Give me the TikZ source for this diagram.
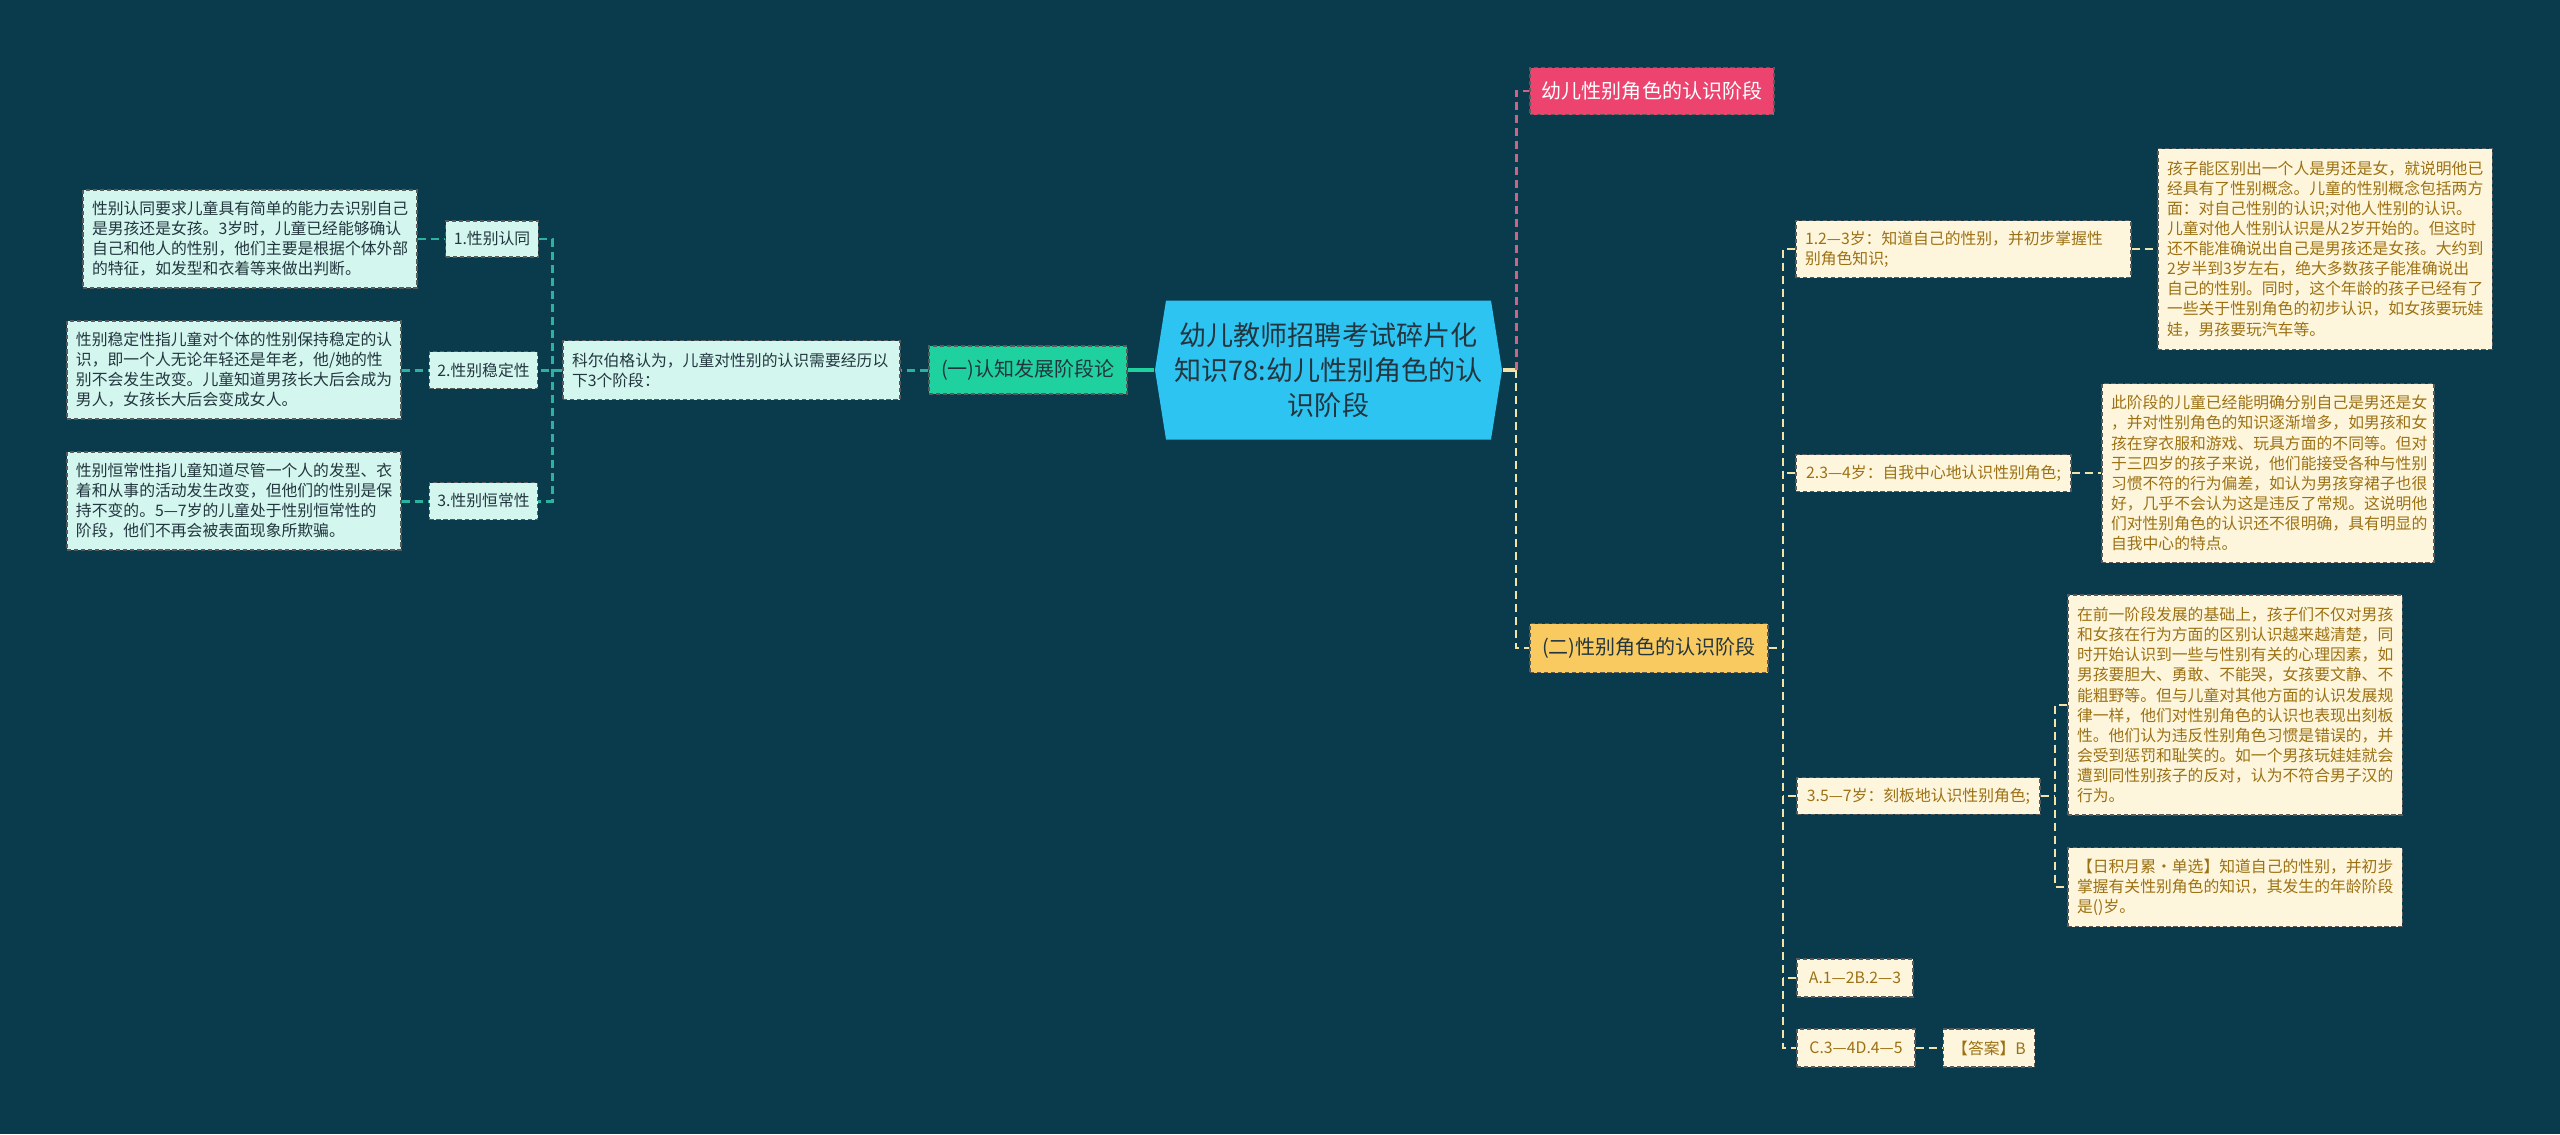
\documentclass[tikz,border=0pt]{standalone}
\usepackage{fontspec}
\setmainfont{Noto Sans CJK SC}
\usetikzlibrary{shapes.symbols}
\definecolor{my_navy}{HTML}{0A3B4C}
\definecolor{my_cyan}{HTML}{2EC4F2}
\definecolor{my_green}{HTML}{1FD19E}
\definecolor{my_mint}{HTML}{D3F6EE}
\definecolor{my_teal}{HTML}{2BB3A0}
\definecolor{my_pink}{HTML}{EC446F}
\definecolor{my_rose}{HTML}{CF6384}
\definecolor{my_gold}{HTML}{F9CA5F}
\definecolor{my_cream}{HTML}{FEF6DC}
\definecolor{my_sand}{HTML}{F2E3AA}
\definecolor{my_brown}{HTML}{9C7114}
\definecolor{my_ink}{HTML}{23363F}
\definecolor{my_frame}{HTML}{5A5A5A}

\begin{document}
\begin{tikzpicture}[
    boxframe/.style={draw=my_frame, line width=0.3pt, dash pattern=on 1.2pt off 0.8pt},
    rootnode/.style={shape=signal, signal to=west and east, signal pointer angle=162,
        fill=my_cyan, text=my_ink, align=center, font=\fontsize{7.7pt}{10pt}\selectfont,
        minimum width=3.47cm, minimum height=1.39cm, inner sep=0pt},
    stagebox/.style={boxframe, font=\fontsize{5.7pt}{7pt}\selectfont, minimum height=0.48cm, inner xsep=0.1cm},
    mintbox/.style={boxframe, fill=my_mint, text=my_ink, font=\fontsize{4.5pt}{5.7pt}\selectfont,
        align=left, inner xsep=0.09cm, inner ysep=0.1cm},
    creambox/.style={boxframe, fill=my_cream, text=my_brown, font=\fontsize{4.5pt}{5.7pt}\selectfont,
        align=left, inner xsep=0.09cm, inner ysep=0.1cm},
    tealline/.style={draw=my_teal, line width=0.85pt, dash pattern=on 2.3pt off 1.4pt},
    sandline/.style={draw=my_sand, line width=0.6pt, dash pattern=on 2.3pt off 1.4pt},
    roseline/.style={draw=my_rose, line width=0.85pt, dash pattern=on 2.3pt off 1.4pt}
]

% --- Hintergrund ---
\fill[my_navy] (0,0) rectangle (25.6,-11.34);
\useasboundingbox (0,0) rectangle (25.6,-11.34);

% --- Wurzel ---
\node[rootnode] (root) at (13.285,-3.70)
    {幼儿教师招聘考试碎片化\\知识78:幼儿性别角色的认\\识阶段};

% --- Linke Seite ---
\node[stagebox, fill=my_green, text=my_ink, minimum width=1.98cm] (cog) at (10.28,-3.70) {(一)认知发展阶段论};
\node[mintbox, text width=3.19cm, minimum height=0.59cm] (kohl) at (7.315,-3.70)
    {科尔伯格认为，儿童对性别的认识需要经历以\\下3个阶段：};

\node[mintbox, align=center, minimum height=0.36cm, inner xsep=0.08cm] (lab1) at (4.92,-2.39) {1.性别认同};
\node[mintbox, align=center, minimum height=0.37cm, inner xsep=0.08cm] (lab2) at (4.835,-3.70) {2.性别稳定性};
\node[mintbox, align=center, minimum height=0.37cm, inner xsep=0.08cm] (lab3) at (4.835,-5.01) {3.性别恒常性};

\node[mintbox, text width=3.16cm, minimum height=0.98cm] (def1) at (2.50,-2.39)
    {性别认同要求儿童具有简单的能力去识别自己\\是男孩还是女孩。3岁时，儿童已经能够确认\\自己和他人的性别，他们主要是根据个体外部\\的特征，如发型和衣着等来做出判断。};
\node[mintbox, text width=3.16cm, minimum height=0.98cm] (def2) at (2.34,-3.70)
    {性别稳定性指儿童对个体的性别保持稳定的认\\识，即一个人无论年轻还是年老，他/她的性\\别不会发生改变。儿童知道男孩长大后会成为\\男人，女孩长大后会变成女人。};
\node[mintbox, text width=3.16cm, minimum height=0.98cm] (def3) at (2.34,-5.01)
    {性别恒常性指儿童知道尽管一个人的发型、衣\\着和从事的活动发生改变，但他们的性别是保\\持不变的。5—7岁的儿童处于性别恒常性的\\阶段，他们不再会被表面现象所欺骗。};

\coordinate (lbus) at (5.52,-3.70);
\draw[draw=my_green, line width=1.1pt] (root.west) -- (cog.east);
\draw[tealline] (cog.west) -- (kohl.east);
\draw[tealline] (kohl.west) -- (lab2.east);
\draw[tealline] (lab1.east) -| (lbus) |- (lab3.east);
\draw[tealline] (def1.east) -- (lab1.west);
\draw[tealline] (def2.east) -- (lab2.west);
\draw[tealline] (def3.east) -- (lab3.west);

% --- Rechte Seite ---
\node[stagebox, fill=my_pink, text=white, minimum width=2.44cm, minimum height=0.47cm] (pinkhead) at (16.52,-0.91) {幼儿性别角色的认识阶段};
\node[stagebox, fill=my_gold, text=my_ink, minimum width=2.38cm, minimum height=0.49cm] (stage2) at (16.49,-6.48) {(二)性别角色的认识阶段};

\node[creambox, text width=3.17cm, minimum height=0.57cm] (item1) at (19.635,-2.49)
    {1.2—3岁：知道自己的性别，并初步掌握性\\别角色知识;};
\node[creambox, minimum width=2.75cm, minimum height=0.37cm] (item2) at (19.335,-4.73) {2.3—4岁：自我中心地认识性别角色;};
\node[creambox, minimum width=2.43cm, minimum height=0.36cm] (item3) at (19.185,-7.96) {3.5—7岁：刻板地认识性别角色;};
\node[creambox, minimum width=1.16cm, minimum height=0.38cm] (optA) at (18.55,-9.78) {A.1—2B.2—3};
\node[creambox, minimum width=1.18cm, minimum height=0.38cm] (optC) at (18.56,-10.48) {C.3—4D.4—5};
\node[creambox, minimum width=0.90cm, minimum height=0.38cm] (answer) at (19.89,-10.48) {【答案】B};

\node[creambox, text width=3.16cm, minimum height=2.01cm] (fact1) at (23.25,-2.49)
    {孩子能区别出一个人是男还是女，就说明他已\\经具有了性别概念。儿童的性别概念包括两方\\面：对自己性别的认识;对他人性别的认识。\\儿童对他人性别认识是从2岁开始的。但这时\\还不能准确说出自己是男孩还是女孩。大约到\\2岁半到3岁左右，绝大多数孩子能准确说出\\自己的性别。同时，这个年龄的孩子已经有了\\一些关于性别角色的初步认识，如女孩要玩娃\\娃，男孩要玩汽车等。};
\node[creambox, text width=3.14cm, minimum height=1.79cm] (fact2) at (22.68,-4.73)
    {此阶段的儿童已经能明确分别自己是男还是女\\，并对性别角色的知识逐渐增多，如男孩和女\\孩在穿衣服和游戏、玩具方面的不同等。但对\\于三四岁的孩子来说，他们能接受各种与性别\\习惯不符的行为偏差，如认为男孩穿裙子也很\\好，几乎不会认为这是违反了常规。这说明他\\们对性别角色的认识还不很明确，具有明显的\\自我中心的特点。};
\node[creambox, text width=3.16cm, minimum height=2.20cm] (fact3) at (22.35,-7.05)
    {在前一阶段发展的基础上，孩子们不仅对男孩\\和女孩在行为方面的区别认识越来越清楚，同\\时开始认识到一些与性别有关的心理因素，如\\男孩要胆大、勇敢、不能哭，女孩要文静、不\\能粗野等。但与儿童对其他方面的认识发展规\\律一样，他们对性别角色的认识也表现出刻板\\性。他们认为违反性别角色习惯是错误的，并\\会受到惩罚和耻笑的。如一个男孩玩娃娃就会\\遭到同性别孩子的反对，认为不符合男子汉的\\行为。};
\node[creambox, text width=3.16cm, minimum height=0.79cm] (quiz) at (22.35,-8.87)
    {【日积月累·单选】知道自己的性别，并初步\\掌握有关性别角色的知识，其发生的年龄阶段\\是()岁。};

\coordinate (rbus) at (15.16,-3.70);
\coordinate (sbus) at (17.83,-6.48);
\coordinate (tbus) at (20.55,-7.96);
\draw[draw=my_sand, line width=1.1pt] (root.east) -- (rbus);
\draw[roseline] (rbus) |- (pinkhead.west);
\draw[sandline] (rbus) |- (stage2.west);
\draw[sandline] (stage2.east) -- (sbus);
\draw[sandline] (item1.west) -| (sbus) |- (optC.west);
\draw[sandline] (item2.west) -- (item2.west -| sbus);
\draw[sandline] (item3.west) -- (item3.west -| sbus);
\draw[sandline] (optA.west) -- (optA.west -| sbus);
\draw[sandline] (item1.east) -- (fact1.west);
\draw[sandline] (item2.east) -- (fact2.west);
\draw[sandline] (item3.east) -- (tbus);
\draw[sandline] (fact3.west) -| (tbus) |- (quiz.west);
\draw[sandline] (optC.east) -- (answer.west);

\end{tikzpicture}
\end{document}
